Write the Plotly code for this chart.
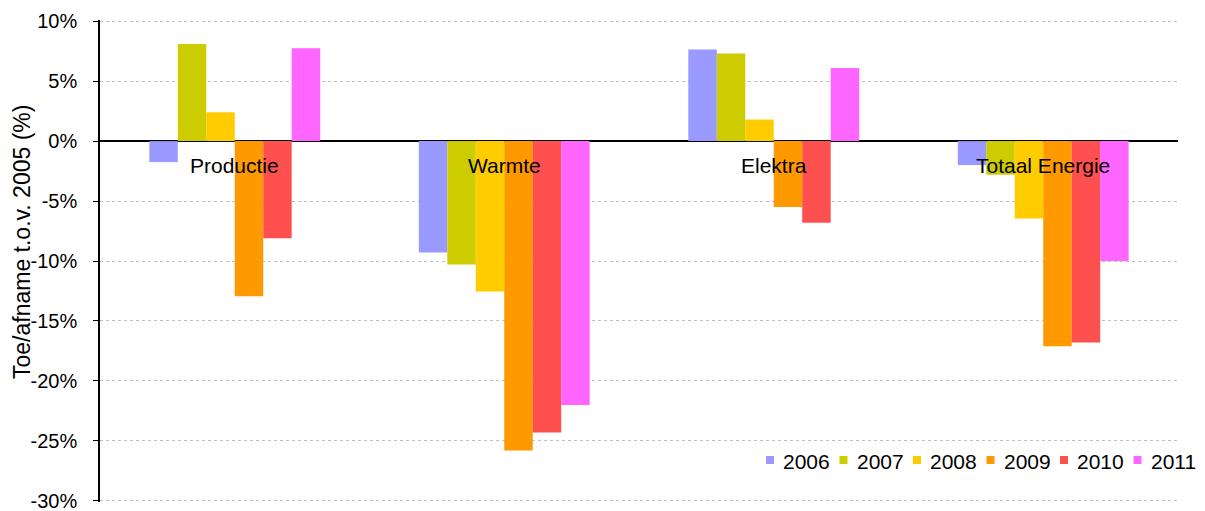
import plotly.graph_objects as go

categories = ["Productie", "Warmte", "Elektra", "Totaal Energie"]
years = ["2006", "2007", "2008", "2009", "2010", "2011"]

v2006 = [-1.75, -9.3, 7.65, -2.0]
v2007 = [8.1, -10.3, 7.3, -2.8]
v2008 = [2.4, -12.55, 1.8, -6.45]
v2009 = [-12.95, -25.8, -5.5, -17.1]
v2010 = [-8.1, -24.3, -6.8, -16.8]
v2011 = [7.75, -22.0, 6.1, -10.0]

series = [v2006, v2007, v2008, v2009, v2010, v2011]
colors = ["#9999FF", "#CCCC00", "#FFCC00", "#FF9900", "#FF5050", "#FF66FF"]

y_ticks = [10, 5, 0, -5, -10, -15, -20, -25, -30]
y_tick_labels = ["10%", "5%", "0%", "-5%", "-10%", "-15%", "-20%", "-25%", "-30%"]

FONT = "Liberation Sans, Arial, sans-serif"

W, H = 1205, 511
ML, MR, MT, MB = 100, 27, 20, 9
PW = W - ML - MR
PH = H - MT - MB


def px_x(px):
    return (px - ML) / PW


def px_y(py):
    return (H - MB - py) / PH


fig = go.Figure()
for name, vals, col in zip(years, series, colors):
    fig.add_trace(go.Bar(
        x=categories, y=vals, name=name,
        marker=dict(color=col, line=dict(width=0)),
    ))

# category names sit just under the zero line
for cat in categories:
    fig.add_annotation(
        x=cat, y=0, xref="x", yref="y", text=cat, showarrow=False,
        yanchor="top", yshift=-11, font=dict(family=FONT, size=21, color="#000000"),
    )

# legend row in the lower right corner: small square + year
leg_x0, leg_step, leg_yc, sq = 766, 73.5, 460, 8
for i, (name, col) in enumerate(zip(years, colors)):
    x0 = leg_x0 + i * leg_step
    fig.add_shape(
        type="rect", xref="paper", yref="paper",
        x0=px_x(x0), x1=px_x(x0 + sq), y0=px_y(leg_yc + sq / 2), y1=px_y(leg_yc - sq / 2),
        fillcolor=col, line=dict(width=0), layer="above",
    )
    fig.add_annotation(
        x=px_x(x0 + 15), y=px_y(leg_yc + 1), xref="paper", yref="paper",
        text=name, showarrow=False, xanchor="left", yanchor="middle",
        font=dict(family=FONT, size=21, color="#000000"),
    )

# vertical axis title
fig.add_annotation(
    x=px_x(22), y=px_y(242), xref="paper", yref="paper",
    text="Toe/afname t.o.v. 2005 (%)", showarrow=False, textangle=-90,
    xanchor="center", yanchor="middle",
    font=dict(family=FONT, size=23, color="#000000"),
)

fig.update_layout(
    width=W, height=H,
    margin=dict(l=ML, r=MR, t=MT, b=MB),
    paper_bgcolor="white", plot_bgcolor="white",
    barmode="group", bargap=0.366, bargroupgap=0,
    font=dict(family=FONT, size=20, color="#000000"),
    showlegend=False,
)

fig.update_xaxes(
    showticklabels=False, showgrid=False, zeroline=False, showline=False, ticks="",
    automargin=False,
)
fig.update_yaxes(
    range=[-30.1, 10.1], tickvals=y_ticks, ticktext=y_tick_labels, automargin=False,
    ticklabeloverflow="allow",
    showgrid=True, gridcolor="#C0C0C0", griddash="dot", gridwidth=1,
    zeroline=True, zerolinecolor="#000000", zerolinewidth=1.5,
    showline=True, linecolor="#000000", linewidth=1.5,
    ticks="outside", ticklen=5, tickcolor="#000000", ticklabelstandoff=12,
    tickfont=dict(family=FONT, size=20),
)

fig.write_html("out.html")
